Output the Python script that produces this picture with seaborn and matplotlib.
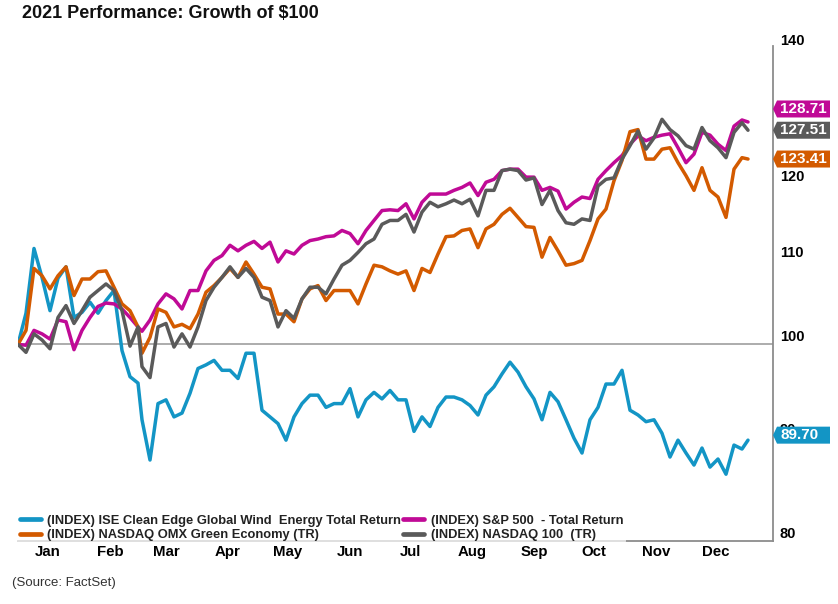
import numpy as np
import pandas as pd
import matplotlib
matplotlib.use("Agg")
import matplotlib.pyplot as plt
from matplotlib.ticker import NullLocator
from matplotlib.lines import Line2D
from matplotlib.patches import Polygon
from matplotlib.transforms import ScaledTranslation
import seaborn as sns

# ---------------- data ----------------
start_date = "2020-12-31"
days = list(range(0, 61, 4)) + list(range(62, 363, 4)) + [365]

wind = [100.0, 103.6, 111.5, 107.9, 103.9, 107.8, 109.2, 103.1, 103.7, 104.9, 103.6, 105.1, 106.3, 99.3, 96.4, 95.7,
        91.8, 87.7, 93.5, 93.9, 92.1, 92.5, 94.6, 97.3, 97.7, 98.2, 97.1, 97.1, 96.2, 99.0, 99.0, 92.8,
        92.1, 91.4, 89.7, 92.1, 93.5, 94.4, 94.4, 93.1, 93.5, 93.5, 95.1, 92.1, 93.9, 94.7, 94.0,
        94.9, 93.9, 93.9, 90.6, 92.1, 91.1, 93.1, 94.2, 94.2, 93.9, 93.3, 92.3, 94.4, 95.3, 96.7,
        98.0, 96.9, 95.3, 94.0, 91.8, 94.7, 93.7, 91.8, 89.9, 88.4, 91.8, 93.1, 95.6, 95.6, 97.1,
        92.8, 92.3, 91.6, 91.8, 90.4, 88.0, 89.7, 88.4, 87.2, 88.9, 87.0, 87.8, 86.3, 89.2, 88.8,
        89.70]

sp500 = [100.0, 99.9, 101.6, 101.2, 100.6, 102.8, 102.6, 99.4, 101.6, 103.1, 104.4, 104.8, 104.7, 104.1, 103.1, 102.0,
         101.5, 102.8, 104.7, 105.9, 105.3, 104.1, 106.3, 106.3, 108.7, 110.0, 110.6, 111.9, 111.2, 111.9, 112.4, 111.5,
         112.3, 109.8, 111.2, 110.8, 111.9, 112.5, 112.7, 113.0, 113.1, 113.8, 113.4, 112.1, 113.8, 115.1, 116.4,
         116.5, 116.4, 117.3, 115.3, 117.5, 118.6, 118.6, 118.6, 119.1, 119.5, 120.1, 118.4, 120.2, 120.6, 121.8,
         122.0, 122.0, 120.9, 120.9, 119.1, 119.5, 119.0, 116.6, 117.5, 118.2, 118.0, 120.6, 121.8, 122.9, 123.9,
         125.5, 126.7, 126.0, 126.5, 126.8, 127.0, 125.0, 122.9, 124.1, 127.2, 126.8, 125.5, 124.6, 128.1, 129.0,
         128.71]

green = [100.0, 101.6, 109.0, 108.1, 106.5, 108.1, 109.2, 105.7, 107.7, 107.7, 108.6, 108.7, 106.7, 104.7, 103.9, 102.0,
         99.0, 100.8, 104.1, 103.7, 102.0, 102.3, 101.8, 103.5, 106.1, 106.9, 107.9, 109.0, 107.9, 109.8, 108.3, 106.7,
         106.5, 103.5, 103.5, 102.6, 105.3, 106.5, 106.9, 105.1, 106.3, 106.3, 106.3, 104.7, 107.1, 109.4, 109.2,
         108.7, 108.3, 108.7, 106.3, 109.0, 108.5, 110.8, 113.0, 113.1, 113.8, 114.0, 111.6, 114.0, 114.6, 115.9,
         116.7, 115.5, 114.3, 114.2, 110.4, 112.9, 111.2, 109.4, 109.6, 110.0, 112.5, 115.3, 116.6, 120.4, 123.2,
         127.3, 127.6, 123.4, 123.4, 124.8, 125.0, 122.9, 121.1, 119.1, 122.2, 119.1, 118.2, 115.5, 122.0, 123.6,
         123.41]

ndx = [100.0, 99.1, 101.2, 100.5, 99.5, 103.1, 104.5, 102.4, 103.9, 105.5, 106.3, 107.1, 106.3, 103.9, 99.8, 102.0,
       97.5, 96.3, 102.0, 102.4, 99.7, 101.2, 99.7, 102.0, 105.1, 106.7, 107.9, 109.2, 107.9, 109.0, 107.9, 105.5,
       105.1, 102.0, 103.9, 103.0, 105.3, 106.7, 106.7, 105.9, 107.7, 109.4, 110.0, 111.0, 112.1, 112.7, 114.6,
       115.1, 115.1, 115.9, 113.6, 116.2, 117.5, 116.9, 117.3, 117.8, 117.3, 117.9, 115.7, 119.1, 119.1, 121.8,
       122.0, 121.8, 120.5, 120.8, 117.2, 119.1, 116.4, 114.8, 114.6, 115.3, 115.1, 119.7, 120.6, 120.8, 123.4,
       125.3, 127.4, 124.8, 126.4, 129.1, 127.6, 126.7, 125.3, 124.8, 127.9, 126.0, 125.0, 123.6, 127.2, 128.6,
       127.51]

series_names = [
    "(INDEX) ISE Clean Edge Global Wind  Energy Total Return",
    "(INDEX) NASDAQ OMX Green Economy (TR)",
    "(INDEX) S&P 500  - Total Return",
    "(INDEX) NASDAQ 100  (TR)",
]
end_labels = ["89.70", "123.41", "128.71", "127.51"]
month_labels = ["Jan", "Feb", "Mar", "Apr", "May", "Jun",
                "Jul", "Aug", "Sep", "Oct", "Nov", "Dec"]
y_ticks = [80, 90, 100, 110, 120, 140]
y_tick_labels = ["80", "90", "100", "110", "120", "140"]

colors = ["#1395C5", "#D35A00", "#C00A96", "#5A5A5A"]
label_nudge_px = [5, 0, 13, 0]   # vertical nudges of the end-value boxes
draw_order = [0, 2, 1, 3]

# ---------------- frame ----------------
dates = pd.Timestamp(start_date) + pd.to_timedelta(days, unit="D")
values = [wind, green, sp500, ndx]
df = pd.concat([pd.DataFrame({"date": dates, "value": v, "series": n})
                for v, n in zip(values, series_names)], ignore_index=True)

sns.set_style("white")
plt.rcParams["font.family"] = ["Liberation Sans", "DejaVu Sans"]

W, H = 838, 604
fig = plt.figure(figsize=(W / 100, H / 100), dpi=100)
ax = fig.add_axes([18 / W, (H - 541) / H, (773 - 18) / W, (541 - 46) / H])

hue_order = [series_names[i] for i in draw_order]
palette = {series_names[i]: colors[i] for i in range(4)}
sns.lineplot(data=df, x="date", y="value", hue="series", hue_order=hue_order,
             palette=palette, linewidth=2.5, legend=False, ax=ax,
             estimator=None, sort=False)

ax.axhline(100, color="#A6A6A6", linewidth=1.3, zorder=1)

ax.set_yscale("log")
ax.set_ylim(80, 140.3)
x0 = pd.Timestamp(start_date)
ax.set_xlim(x0, x0 + pd.Timedelta(days=377.5))

ax.yaxis.tick_right()
ax.set_yticks(y_ticks, y_tick_labels, fontweight="bold", va="bottom")
ax.yaxis.set_minor_locator(NullLocator())
ax.tick_params(axis="y", length=0, pad=5, labelsize=10.5, labelcolor="black")

mid_months = [pd.Timestamp(2021, m, 15) for m in range(1, 13)]
ax.set_xticks(mid_months, month_labels, fontweight="bold")
ax.xaxis.set_minor_locator(NullLocator())
ax.tick_params(axis="x", length=0, pad=3, labelsize=10.8, labelcolor="black")
ax.set_xlabel("")
ax.set_ylabel("")

for s in ["left", "top"]:
    ax.spines[s].set_visible(False)
for s in ["right", "bottom"]:
    ax.spines[s].set_color("#8C8C8C")
    ax.spines[s].set_linewidth(1.3)

# end-value boxes
for i in range(4):
    val = float(end_labels[i])
    trans = fig.dpi_scale_trans + ScaledTranslation(1, val, ax.get_yaxis_transform())
    dy = label_nudge_px[i] / 100
    hh = 8.5 / 100
    poly = Polygon([(0.0, dy), (0.04, dy - hh), (0.57, dy - hh), (0.57, dy + hh), (0.04, dy + hh)],
                   closed=True, transform=trans, facecolor=colors[i], edgecolor="none", zorder=5)
    fig.add_artist(poly)
    fig.text(0.07, dy, end_labels[i], transform=trans, color="white", fontsize=11,
             fontweight="bold", ha="left", va="center", zorder=6)

# legend
handles = [Line2D([0], [0], color=colors[i], lw=3.4) for i in range(4)]
leg = ax.legend(handles, series_names, ncol=2, loc="lower left",
                bbox_to_anchor=(17 / W, (H - 544) / H), bbox_transform=fig.transFigure,
                prop={"size": 9.3, "weight": "bold"}, handlelength=1.65, handletextpad=0.5,
                columnspacing=0.15, borderpad=0.2, labelspacing=0.2, borderaxespad=0,
                frameon=True)
leg.get_frame().set_facecolor("white")
leg.get_frame().set_edgecolor("none")
leg.get_frame().set_alpha(0.7)
for t in leg.get_texts():
    t.set_color("#222222")

fig.text(22 / W, 1 - 13 / H, "2021 Performance: Growth of $100", fontsize=13,
         fontweight="bold", ha="left", va="center", color="#111111")
fig.text(12 / W, 1 - 583 / H, "(Source: FactSet)", fontsize=9.5,
         ha="left", va="center", color="#333333")

fig.savefig("out.png", dpi=100, facecolor="white")
